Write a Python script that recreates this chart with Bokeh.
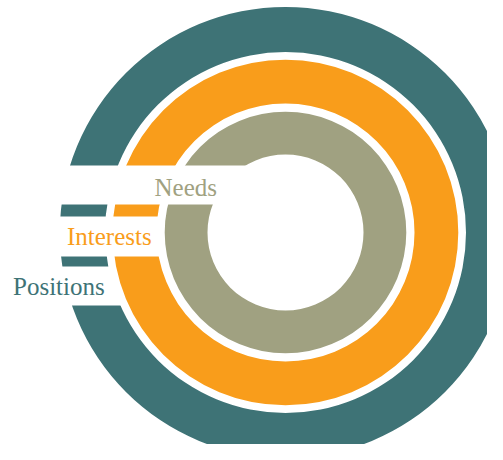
from bokeh.plotting import figure
from bokeh.models import Range1d
from bokeh.core.properties import value
from bokeh.embed import file_html
from bokeh.resources import INLINE

# --- data ---
labels = ["Positions", "Interests", "Needs"]          # outer -> inner
ring_colors = ["#3e7376", "#f99d1b", "#a0a181"]
inner_r = [180.5, 129.0, 78.0]
outer_r = [225.7, 172.8, 120.8]

# layout (data units == pixels, ring centre at 0,0)
band_top = [-34, 16, 67]
band_bottom = [-73, -24, 28]
label_x = [-272.5, -218.5, -131.0]
label_y = [-53.5, -3.5, 45.5]

W, H = 487, 444
p = figure(width=W, height=H, output_backend="svg", toolbar_location=None,
           x_range=Range1d(-285, -285 + W), y_range=Range1d(232 - H, 232),
           min_border=0, background_fill_color="white", border_fill_color="white")
p.axis.visible = False
p.grid.visible = False
p.outline_line_color = None

for i in range(len(labels)):
    p.annulus(x=[0], y=[0], inner_radius=inner_r[i], outer_radius=outer_r[i],
              fill_color=ring_colors[i], line_color=None)
    p.quad(left=[-320], right=[0], top=[band_top[i]], bottom=[band_bottom[i]],
           fill_color="white", line_color=None)

for i in range(len(labels)):
    p.text(x=[label_x[i]], y=[label_y[i]], text=[labels[i]],
           text_color=ring_colors[i], text_font=value("Liberation Serif"),
           text_font_size="25px", text_align="left", text_baseline="alphabetic")

open("out.html", "w").write(file_html(p, INLINE))
